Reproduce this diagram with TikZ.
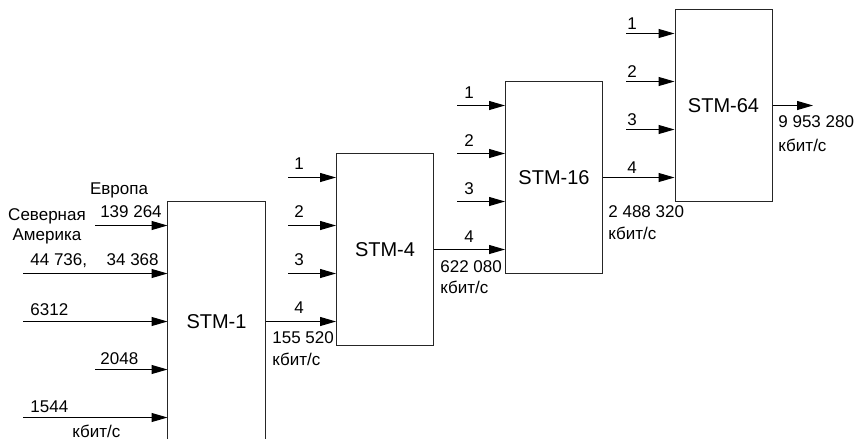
\documentclass[tikz,border=0pt]{standalone}
\usepackage{fontspec}
\setmainfont{Liberation Sans}
\usetikzlibrary{arrows.meta}
\begin{document}
\begin{tikzpicture}[x=0.5pt,y=-0.5pt,
  box/.style={draw=black!85, line width=0.5pt, minimum width=48.5pt, minimum height=96pt, inner sep=0pt, font=\fontsize{10}{12}\selectfont},
  lbl/.style={inner sep=0pt, font=\fontsize{8.5}{10}\selectfont},
  arr/.style={line width=0.5pt, -{Triangle[length=8pt,width=4.5pt]}},
  ln/.style={line width=0.5pt, draw=black!85}]
\useasboundingbox (0,0) rectangle (854,439);
% boxes
\node[box, draw=none, minimum height=120pt] (s1) at (216.5,321.5) {STM-1};
\draw[ln] (s1.north west |- 0,439) -- (s1.north west) -- (s1.north east) -- (s1.north east |- 0,439);
\node[box] (s4) at (385,249.5) {STM-4};
\node[box] (s16) at (554,177.5) {STM-16};
\node[box] (s64) at (723.5,105.5) {STM-64};
% STM-1 inputs
\coordinate (a1) at (95,225.5);
\coordinate (a2) at (23,273.5);
\coordinate (a3) at (23,321.5);
\coordinate (a4) at (95,369.5);
\coordinate (a5) at (23,417.5);
\foreach \c in {a1,a2,a3,a4,a5} \draw[arr] (\c) -- (\c -| s1.west);
\node[lbl] (eu) at (119,190) {Европа};
\node[lbl] (l1) at (131,212) {139 264};
\node[lbl, align=center] (na) at (47,226) {Северная\\Америка};
\node[lbl, anchor=west] (l2) at (30,261) {44 736,\hspace{1.15em}34 368};
\node[lbl, anchor=west] (l3) at (30,310) {6312};
\node[lbl, anchor=west] (l4) at (100,359) {2048};
\node[lbl, anchor=west] (l5) at (30,407) {1544};
\node[lbl, anchor=west] (k0) at (72,431) {кбит/с};
% STM-4 inputs
\coordinate (b1) at (288,177.5);
\coordinate (b2) at (288,225.5);
\coordinate (b3) at (288,273.5);
\foreach \c in {b1,b2,b3} \draw[arr] (\c) -- (\c -| s4.west);
\draw[arr] (s1.east) -- (s1.east -| s4.west);
\node[lbl] (n41) at (299,163.5) {1};
\node[lbl] (n42) at (299,211.5) {2};
\node[lbl] (n43) at (299,259.5) {3};
\node[lbl] (n44) at (299,308) {4};
\node[lbl, anchor=west] (r1) at (272,338) {155 520};
\node[lbl, anchor=west] (k1) at (272,359) {кбит/с};
% STM-16 inputs
\coordinate (c1) at (457,105.5);
\coordinate (c2) at (457,153.5);
\coordinate (c3) at (457,201.5);
\foreach \c in {c1,c2,c3} \draw[arr] (\c) -- (\c -| s16.west);
\draw[arr] (s4.east) -- (s4.east -| s16.west);
\node[lbl] (n161) at (469,93) {1};
\node[lbl] (n162) at (469,141) {2};
\node[lbl] (n163) at (469,189) {3};
\node[lbl] (n164) at (469,237) {4};
\node[lbl, anchor=west] (r4) at (440,267) {622 080};
\node[lbl, anchor=west] (k4) at (440,287) {кбит/с};
% STM-64 inputs
\coordinate (d1) at (626,33.5);
\coordinate (d2) at (626,81.5);
\coordinate (d3) at (626,129.5);
\foreach \c in {d1,d2,d3} \draw[arr] (\c) -- (\c -| s64.west);
\draw[arr] (s16.east) -- (s16.east -| s64.west);
\node[lbl] (n641) at (632,23.5) {1};
\node[lbl] (n642) at (632,71.5) {2};
\node[lbl] (n643) at (632,119.5) {3};
\node[lbl] (n644) at (632,167.5) {4};
\node[lbl, anchor=west] (r16) at (608,212) {2 488 320};
\node[lbl, anchor=west] (k16) at (608,233) {кбит/с};
% output
\coordinate (out) at (813,105.5);
\draw[arr] (s64.east) -- (out);
\node[lbl, anchor=west] (r64) at (778,122) {9 953 280};
\node[lbl, anchor=west] (k64) at (778,145) {кбит/с};
\end{tikzpicture}
\end{document}
